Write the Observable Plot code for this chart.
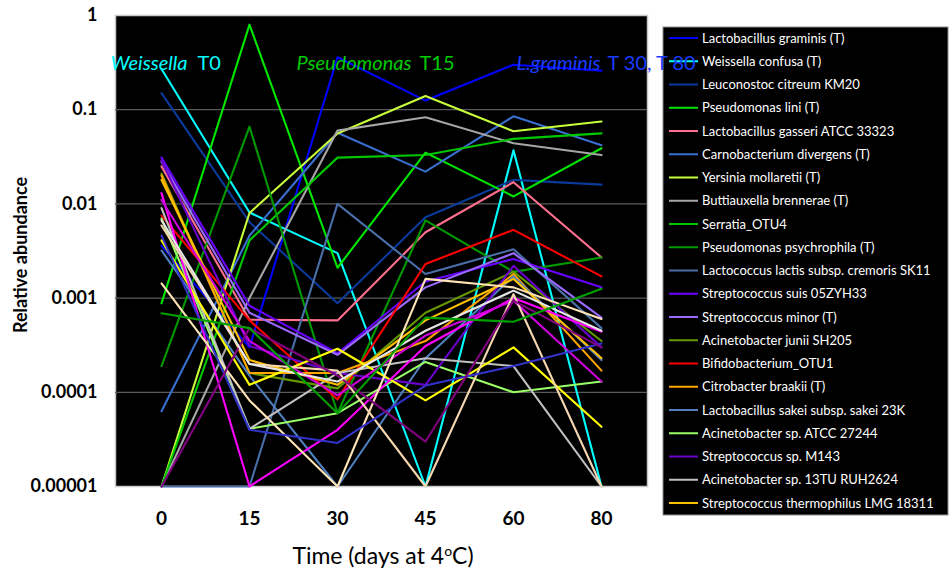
<!DOCTYPE html>
<html>
<head>
<meta charset="utf-8">
<script src="https://cdn.jsdelivr.net/npm/d3@7"></script>
<script src="https://cdn.jsdelivr.net/npm/@observablehq/plot@0.6"></script>
<style>
  html, body { margin: 0; padding: 0; background: #ffffff; }
  svg { display: block; }
</style>
</head>
<body>
<div id="chart"></div>
<script>
// Time points (days at 4 °C)
const days = ["0", "15", "30", "45", "60", "80"];
const yTicks = [1e-5, 1e-4, 1e-3, 1e-2, 1e-1, 1];
const yTickLabels = ["0.00001", "0.0001", "0.001", "0.01", "0.1", "1"];

// Legend series (names + colours)
const legendNames = [
  "Lactobacillus graminis (T)",
  "Weissella confusa (T)",
  "Leuconostoc citreum KM20",
  "Pseudomonas lini (T)",
  "Lactobacillus gasseri ATCC 33323",
  "Carnobacterium divergens (T)",
  "Yersinia mollaretii (T)",
  "Buttiauxella brennerae (T)",
  "Serratia_OTU4",
  "Pseudomonas psychrophila (T)",
  "Lactococcus lactis subsp. cremoris SK11",
  "Streptococcus suis 05ZYH33",
  "Streptococcus minor (T)",
  "Acinetobacter junii SH205",
  "Bifidobacterium_OTU1",
  "Citrobacter braakii (T)",
  "Lactobacillus sakei subsp. sakei 23K",
  "Acinetobacter sp. ATCC 27244",
  "Streptococcus sp. M143",
  "Acinetobacter sp. 13TU RUH2624",
  "Streptococcus thermophilus LMG 18311"
];
const legendColors = [
  "#0000ff", "#00ffff", "#0a3a9a", "#00e600", "#ff6f8f", "#3a6fd0", "#c8ff3a",
  "#a6a6a6", "#00c800", "#009a00", "#4a6fa8", "#6a00ff", "#9a6aff", "#669900",
  "#ff0000", "#ffa500", "#5080c0", "#99ff66", "#6a00cc", "#c0c0c0", "#ffc000"
];

// Relative abundance per series, at days 0,15,30,45,60,80
const lGraminis     = [0.0036, 0.0003, 0.36, 0.125, 0.30, 0.26];
const wConfusa      = [0.27, 0.0081, 0.003, 0.00001, 0.037, 0.00001];
const lCitreum      = [0.15, 0.0064, 0.00088, 0.0072, 0.018, 0.016];
const pLini         = [0.00088, 0.8, 0.0021, 0.035, 0.012, 0.039];
const lGasseri      = [0.025, 0.00059, 0.00058, 0.005, 0.017, 0.0027];
const cDivergens    = [0.000063, 0.0046, 0.057, 0.022, 0.085, 0.042];
const yMollaretii   = [0.00001, 0.008, 0.056, 0.14, 0.059, 0.075];
const bBrennerae    = [0.00001, 0.001, 0.06, 0.083, 0.044, 0.033];
const serratia      = [0.00001, 0.0041, 0.031, 0.033, 0.049, 0.056];
const pPsychrophila = [0.00019, 0.066, 0.00006, 0.0067, 0.0019, 0.0027];
const lLactis       = [0.00001, 0.00001, 0.01, 0.0018, 0.0033, 0.00048];
const sSuis         = [0.031, 0.00083, 0.00026, 0.0015, 0.0026, 0.0013];
const sMinor        = [0.028, 0.0007, 0.00025, 0.0013, 0.003, 0.00062];
const aJunii        = [0.021, 0.00016, 0.00011, 0.0007, 0.0019, 0.00035];
const bifido        = [0.0075, 0.00058, 0.000084, 0.0023, 0.0053, 0.0017];
const cBraakii      = [0.02, 0.00016, 0.00016, 0.00035, 0.0018, 0.00017];
const lSakei        = [0.0032, 0.00015, 0.00001, 0.00023, 0.0017, 0.00022];
const aATCC27244    = [0.007, 0.000041, 0.00006, 0.00021, 0.0001, 0.00013];
const sM143         = [0.029, 0.00031, 0.00016, 0.00012, 0.0022, 0.0003];
const a13TU         = [0.009, 0.000041, 0.00016, 0.00023, 0.00019, 0.00001];
const sThermophilus = [0.018, 0.00022, 0.00012, 0.00058, 0.0016, 0.00023];

// Further series drawn in the plot but not listed in the legend box
const extraColors = ["#ffff00", "#ff00ff", "#cc00dd", "#ffe4b5", "#f5d6b0", "#3333cc", "#800080", "#e6e6e6", "#00a000"];
const extraYellow   = [0.0041, 0.00012, 0.00029, 0.000082, 0.0003, 0.000043];
const extraMagenta  = [0.013, 0.00001, 0.00004, 0.00031, 0.001, 0.00044];
const extraMagenta2 = [0.011, 0.00035, 0.000093, 0.0004, 0.00094, 0.00013];
const extraWheat1   = [0.00143, 0.000082, 0.00001, 0.0016, 0.0013, 0.0006];
const extraWheat2   = [0.0059, 0.0002, 0.00017, 0.00001, 0.0011, 0.00001];
const extraIndigo   = [0.0046, 0.00004, 0.000029, 0.000118, 0.00019, 0.00033];
const extraPurple   = [0.00001, 0.00048, 0.00015, 0.00003, 0.00094, 0.0003];
const extraWhite    = [0.0067, 0.0002, 0.00013, 0.00045, 0.0012, 0.00045];
const extraGreen    = [0.00069, 0.00048, 0.00006, 0.00062, 0.00056, 0.00126];

const legendValues = [lGraminis, wConfusa, lCitreum, pLini, lGasseri, cDivergens, yMollaretii,
  bBrennerae, serratia, pPsychrophila, lLactis, sSuis, sMinor, aJunii, bifido, cBraakii,
  lSakei, aATCC27244, sM143, a13TU, sThermophilus];
const extraValues = [extraYellow, extraMagenta, extraMagenta2, extraWheat1, extraWheat2,
  extraIndigo, extraPurple, extraWhite, extraGreen];

// Annotations
const annotations = [
  {day: "0",  value: 0.31, italic: "Weissella",   normal: "T0",         color: "#00ffff", dxEnd: 26, dxStart: 36},
  {day: "30", value: 0.31, italic: "Pseudomonas", normal: "T15",        color: "#00cc00", dxEnd: 74, dxStart: 82},
  {day: "60", value: 0.31, italic: "L.graminis",  normal: "T 30, T 80", color: "#1a3cff", dxEnd: 87, dxStart: 94}
];

// Long-format table for the line mark
const rows = [];
const allValues = legendValues.concat(extraValues);
const allColors = legendColors.concat(extraColors);
allValues.forEach((vals, i) => {
  vals.forEach((v, j) => rows.push({series: i, day: days[j], value: v, color: allColors[i]}));
});

const FONT = "Lato, 'Open Sans', sans-serif";

const chart = Plot.plot({
  width: 952,
  height: 572,
  marginLeft: 115,
  marginRight: 305,
  marginTop: 15,
  marginBottom: 86,
  style: {background: "#ffffff", fontFamily: FONT, overflow: "visible"},
  x: {type: "point", domain: days, padding: 0.5, axis: null},
  y: {type: "log", domain: [1e-5, 1], axis: null},
  color: {type: "identity"},
  marks: [
    Plot.frame({fill: "#000000", stroke: "#c8c8c8", strokeWidth: 1.5}),
    Plot.ruleY(yTicks.slice(1, -1), {stroke: "#5a5a5a", strokeWidth: 1.3}),
    Plot.line(rows, {x: "day", y: "value", z: "series", stroke: "color", strokeWidth: 2.1, curve: "linear"}),
    Plot.axisY({
      ticks: yTicks, tickSize: 0, tickPadding: 18, label: null,
      tickFormat: (d) => yTickLabels[yTicks.indexOf(d)] ?? "",
      fontSize: 18, fontWeight: "bold", fill: "#000000"
    }),
    Plot.axisX({
      tickSize: 0, tickPadding: 25, label: null,
      fontSize: 19, fontWeight: "bold", fill: "#000000"
    }),
    Plot.text(annotations, {
      x: "day", y: "value", text: "italic", fill: "color",
      textAnchor: "end", fontStyle: "italic", fontSize: 20
    }),
    Plot.text(annotations, {
      x: "day", y: "value", text: "normal", fill: "color",
      textAnchor: "start", fontSize: 20
    })
  ]
});

// Apply per-annotation horizontal offsets to the rendered text nodes
const svg = d3.select(chart);
const textGroups = svg.selectAll('g[aria-label="text"]').nodes();
if (textGroups.length === 2) {
  d3.select(textGroups[0]).selectAll("text").each(function(_, i) {
    const t = d3.select(this);
    const tr = t.attr("transform") || "";
    t.attr("transform", tr + ` translate(${annotations[i].dxEnd},0)`);
  });
  d3.select(textGroups[1]).selectAll("text").each(function(_, i) {
    const t = d3.select(this);
    const tr = t.attr("transform") || "";
    t.attr("transform", tr + ` translate(${annotations[i].dxStart},0)`);
  });
}

// Legend box
const lg = svg.append("g")
  .attr("font-family", FONT)
  .attr("text-anchor", "start");
lg.append("rect")
  .attr("x", 663).attr("y", 27).attr("width", 285).attr("height", 488)
  .attr("fill", "#000000").attr("stroke", "#8c8c8c").attr("stroke-width", 1);
legendNames.forEach((name, i) => {
  const y = 38 + i * 23.25;
  lg.append("line").attr("x1", 669).attr("x2", 698).attr("y1", y).attr("y2", y)
    .attr("stroke", legendColors[i]).attr("stroke-width", 2);
  lg.append("text").attr("x", 702).attr("y", y).attr("dy", "0.35em")
    .attr("text-anchor", "start")
    .attr("fill", "#ffffff").attr("font-size", 13).text(name);
});

// Keep annotations above the legend box
svg.selectAll('g[aria-label="text"]').raise();

// Axis titles
svg.append("text")
  .attr("transform", "translate(21,255) rotate(-90)")
  .attr("text-anchor", "middle").attr("dy", "0.35em")
  .attr("font-family", FONT).attr("font-size", 18).attr("font-weight", "bold")
  .attr("fill", "#000000").text("Relative abundance");

const xt = svg.append("text")
  .attr("x", 383).attr("y", 556).attr("dy", "0.35em")
  .attr("text-anchor", "middle")
  .attr("font-family", FONT).attr("font-size", 23).attr("fill", "#000000");
xt.append("tspan").text("Time (days at 4");
xt.append("tspan").attr("dy", -8).attr("font-size", 14).text("o");
xt.append("tspan").attr("dy", 8).text("C)");

document.getElementById("chart").appendChild(chart);
</script>
</body>
</html>
